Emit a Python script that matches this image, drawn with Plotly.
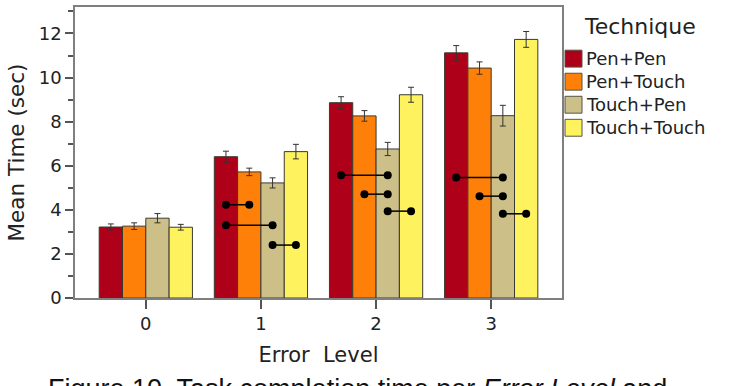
import plotly.graph_objects as go

# ---- data ----
error_levels = ["0", "1", "2", "3"]
techniques = ["Pen+Pen", "Pen+Touch", "Touch+Pen", "Touch+Touch"]
colors = ["#AE0019", "#FF8009", "#CCBF88", "#FEF25E"]

mean_pen_pen = [3.22, 6.41, 8.86, 11.12]
mean_pen_touch = [3.26, 5.72, 8.26, 10.43]
mean_touch_pen = [3.62, 5.22, 6.76, 8.27]
mean_touch_touch = [3.21, 6.64, 9.22, 11.73]

err_pen_pen = [0.14, 0.25, 0.27, 0.33]
err_pen_touch = [0.15, 0.17, 0.24, 0.28]
err_touch_pen = [0.21, 0.23, 0.30, 0.47]
err_touch_touch = [0.13, 0.33, 0.34, 0.36]

# significant pairwise differences: (error level index, technique a, technique b, y)
sig_level = [1, 1, 1, 2, 2, 2, 3, 3, 3]
sig_from = [0, 0, 2, 0, 1, 2, 0, 1, 2]
sig_to = [1, 2, 3, 2, 2, 3, 2, 2, 3]
sig_y = [4.23, 3.30, 2.40, 5.57, 4.71, 3.94, 5.47, 4.62, 3.82]

means = [mean_pen_pen, mean_pen_touch, mean_touch_pen, mean_touch_touch]
errs = [err_pen_pen, err_pen_touch, err_touch_pen, err_touch_touch]

FONT = "DejaVu Sans"
W, H = 732, 386
L, R, T, B = 75, 170, 5, 88
PW, PH = W - L - R, H - T - B
BARGAP = 0.19

fig = go.Figure()
xs = list(range(len(error_levels)))
for name, col, m, e in zip(techniques, colors, means, errs):
    fig.add_trace(go.Bar(
        x=xs, y=m, name=name,
        marker=dict(color=col, line=dict(color="#3a3a30", width=1)),
        error_y=dict(type="data", array=e, color="#333333", thickness=1, width=3),
        showlegend=False,
    ))

n = len(techniques)
barw = (1 - BARGAP) / n
def bar_center(level, tech):
    return level + (tech - (n - 1) / 2) * barw

for lv, a, b, yv in zip(sig_level, sig_from, sig_to, sig_y):
    fig.add_trace(go.Scatter(
        x=[bar_center(lv, a), bar_center(lv, b)], y=[yv, yv],
        mode="lines+markers",
        line=dict(color="black", width=1.5),
        marker=dict(color="black", size=8),
        showlegend=False, hoverinfo="skip",
    ))

def px(xp):
    return (xp - L) / PW
def py(yp):
    return (H - B - yp) / PH

# custom legend
shapes = []
annotations = []
annotations.append(dict(text="Technique", x=px(582), y=py(25), xref="paper", yref="paper",
                        xanchor="left", yanchor="middle", showarrow=False,
                        font=dict(family=FONT, size=22, color="#222")))
for i, (name, col) in enumerate(zip(techniques, colors)):
    cy = 57 + i * 23.2
    shapes.append(dict(type="rect", xref="paper", yref="paper",
                       x0=px(565), x1=px(582), y0=py(cy - 8.5), y1=py(cy + 8.5),
                       fillcolor=col, line=dict(color="#555544", width=1)))
    annotations.append(dict(text=name, x=px(584), y=py(cy), xref="paper", yref="paper",
                            xanchor="left", yanchor="middle", showarrow=False,
                            font=dict(family=FONT, size=18, color="#222")))

annotations.append(dict(
    text="Figure 10. Task completion time per <i>Error Level</i> and",
    x=px(357), y=py(373), xref="paper", yref="paper", xanchor="center", yanchor="top",
    showarrow=False, font=dict(family="Liberation Sans, Arial", size=27, color="#111")))

fig.update_layout(
    width=W, height=H,
    margin=dict(l=L, r=R, t=T, b=B),
    paper_bgcolor="white", plot_bgcolor="white",
    barmode="group", bargap=BARGAP, bargroupgap=0,
    shapes=shapes, annotations=annotations,
    showlegend=False,
    font=dict(family=FONT, color="#222"),
)
fig.update_xaxes(
    range=[-0.615, 3.615], tickvals=xs, ticktext=error_levels,
    showgrid=False, zeroline=False,
    showline=True, linecolor="#7f7f7f", linewidth=1.5, mirror=True,
    ticks="outside", ticklen=9, tickcolor="#555", tickwidth=1.5,
    tickfont=dict(family=FONT, size=18, color="#222"),
    title=dict(text="Error  Level", font=dict(family=FONT, size=21, color="#222"), standoff=14),
)
fig.update_yaxes(
    range=[0, 13.2], tickvals=[0, 2, 4, 6, 8, 10, 12],
    showgrid=False, zeroline=False,
    showline=True, linecolor="#7f7f7f", linewidth=1.5, mirror=True,
    ticks="outside", ticklen=8, tickcolor="#555", tickwidth=1.5,
    minor=dict(tickvals=[1, 3, 5, 7, 9, 11, 13], ticks="outside", ticklen=5, tickcolor="#555", tickwidth=1.5),
    tickfont=dict(family=FONT, size=18, color="#222"),
    title=dict(text="Mean Time (sec)", font=dict(family=FONT, size=21.5, color="#222"), standoff=8),
)

fig.write_html("out.html")
